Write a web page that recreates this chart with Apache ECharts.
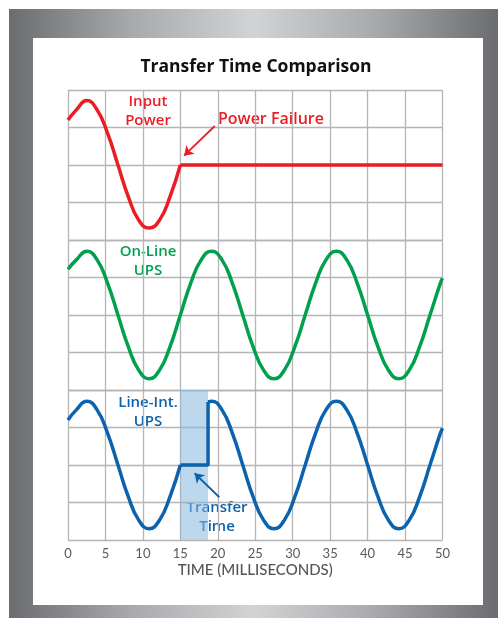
<!DOCTYPE html>
<html>
<head>
<meta charset="utf-8">
<title>Transfer Time Comparison</title>
<script src="https://cdn.jsdelivr.net/npm/echarts@6/dist/echarts.min.js"></script>
<style>
  html, body { margin: 0; padding: 0; background: #fff; }
  .frame {
    position: absolute; left: 9px; top: 9px; width: 489px; height: 609px;
    background: linear-gradient(to right, #6b6c70 0%, #a7a9ac 25%, #d2d3d5 50%, #a7a9ac 75%, #6b6c70 100%);
  }
  .panel { position: absolute; left: 33px; top: 38px; width: 450px; height: 567px; background: #fff; }
  #chart { position: absolute; left: 0; top: 0; width: 498px; height: 618px; }
</style>
</head>
<body>
<div class="frame"></div>
<div class="panel"></div>
<div id="chart"></div>
<script>
// sample times (ms) read along the waves
const waveTimes = [0, 1.11, 2.5, 3.89, 5.28, 6.67, 8.06, 9.44, 10.83, 12.22, 13.61, 15, 16.39, 17.78, 19.17,
  20.56, 21.94, 23.33, 24.72, 26.11, 27.5, 28.89, 30.28, 31.67, 33.06, 34.44, 35.83, 37.22, 38.61, 40,
  41.39, 42.78, 44.17, 45.56, 46.94, 48.33, 49.72, 50]

// input power: wave up to the failure at 15 ms, then flat
const inputPower = [1.2, 1.47, 1.72, 1.47, 0.85, 0, -0.85, -1.47, -1.68, -1.47, -0.85, 0]
const failureTime = 15
const inputAfter = [0, 0]

// on-line UPS: uninterrupted wave
const onlineUps = [1.22, 1.47, 1.7, 1.47, 0.85, 0, -0.85, -1.47, -1.7, -1.47, -0.85, 0, 0.85, 1.47, 1.7,
  1.47, 0.85, 0, -0.85, -1.47, -1.7, -1.47, -0.85, 0, 0.85, 1.47, 1.7, 1.47, 0.85, 0,
  -0.85, -1.47, -1.7, -1.47, -0.85, 0, 0.85, 0.98]

// line-interactive UPS: wave, flat during transfer, then wave again
const transferEnd = 18.7
const lineIntBefore = [1.2, 1.47, 1.7, 1.47, 0.85, 0, -0.85, -1.47, -1.7, -1.47, -0.85, 0]
const lineIntGap = [0, 0, 1.68]
const lineIntAfterTimes = [18.7, 19.17, 20.56, 21.94, 23.33, 24.72, 26.11, 27.5, 28.89, 30.28, 31.67, 33.06,
  34.44, 35.83, 37.22, 38.61, 40, 41.39, 42.78, 44.17, 45.56, 46.94, 48.33, 49.72, 50]
const lineIntAfter = [1.68, 1.7, 1.47, 0.85, 0, -0.85, -1.47, -1.7, -1.47, -0.85, 0, 0.85,
  1.47, 1.7, 1.47, 0.85, 0, -0.85, -1.47, -1.7, -1.47, -0.85, 0, 0.85, 0.98]

const RED = '#ec1c24'
const GREEN = '#00a04f'
const BLUE = '#0b62ad'
const GRID_COLOR = '#b5b5b5'
const FONT = '"Open Sans", Lato, sans-serif'

const chart = echarts.init(document.getElementById('chart'), null, { renderer: 'canvas' })

const pair = (xs, ys) => ys.map((v, i) => [xs[i], v])

const gridTops = [90, 240, 390]
const grids = gridTops.map(top => ({ left: 68, top: top, width: 374.5, height: 150 }))

const xAxes = gridTops.map((t, i) => ({
  type: 'value', gridIndex: i, min: 0, max: 50, interval: 5,
  axisLine: { show: false }, axisTick: { show: false },
  axisLabel: { show: i === 2, color: '#5a5a5a', fontSize: 13, fontFamily: 'Lato, sans-serif', margin: 7 },
  splitLine: { show: true, lineStyle: { color: GRID_COLOR, width: 1.3 } },
  name: i === 2 ? 'TIME (MILLISECONDS)' : '',
  nameLocation: 'middle', nameGap: 23,
  nameTextStyle: { color: '#555', fontSize: 15, fontFamily: 'Lato, sans-serif', fontWeight: 500 }
}))

const yAxes = gridTops.map((t, i) => ({
  type: 'value', gridIndex: i, min: -2, max: 2, interval: 1,
  axisLine: { show: false }, axisTick: { show: false }, axisLabel: { show: false },
  splitLine: { show: true, lineStyle: { color: GRID_COLOR, width: 1.3 } }
}))

const lineStyle = c => ({ color: c, width: 3.5 })

const arrow = (c, from, to) => ({
  silent: true, symbol: ['none', 'arrow'], symbolSize: 9,
  label: { show: false },
  lineStyle: { color: c, width: 1.8, type: 'solid' },
  data: [[{ coord: from }, { coord: to }]]
})

const option = {
  animation: false,
  grid: grids,
  xAxis: xAxes,
  yAxis: yAxes,
  series: [
    {
      type: 'line', xAxisIndex: 0, yAxisIndex: 0, smooth: true, showSymbol: false,
      lineStyle: lineStyle(RED), data: pair(waveTimes, inputPower),
      markLine: arrow(RED, [19.6, 1.04], [15.5, 0.25])
    },
    {
      type: 'line', xAxisIndex: 0, yAxisIndex: 0, showSymbol: false,
      lineStyle: lineStyle(RED), data: pair([failureTime, 50], inputAfter)
    },
    {
      type: 'line', xAxisIndex: 1, yAxisIndex: 1, smooth: true, showSymbol: false,
      lineStyle: lineStyle(GREEN), data: pair(waveTimes, onlineUps)
    },
    {
      type: 'line', xAxisIndex: 2, yAxisIndex: 2, smooth: true, showSymbol: false,
      lineStyle: lineStyle(BLUE), data: pair(waveTimes, lineIntBefore),
      markArea: {
        silent: true,
        itemStyle: { color: 'rgba(135,182,222,0.55)' },
        data: [[{ xAxis: failureTime }, { xAxis: transferEnd }]]
      },
      markLine: arrow(BLUE, [20.2, -0.86], [16.9, -0.22])
    },
    {
      type: 'line', xAxisIndex: 2, yAxisIndex: 2, showSymbol: false,
      lineStyle: lineStyle(BLUE), data: pair([failureTime, transferEnd, transferEnd], lineIntGap)
    },
    {
      type: 'line', xAxisIndex: 2, yAxisIndex: 2, smooth: true, showSymbol: false,
      lineStyle: lineStyle(BLUE), data: pair(lineIntAfterTimes, lineIntAfter)
    }
  ],
  graphic: [
    { type: 'text', x: 256, y: 58, style: { text: 'Transfer Time Comparison', fill: '#111', font: 'bold 17.5px ' + FONT, align: 'center' } },
    { type: 'text', x: 148, y: 92, style: { text: 'Input\nPower', fill: RED, font: '600 15px ' + FONT, lineHeight: 19, align: 'center' } },
    { type: 'text', x: 218, y: 111, style: { text: 'Power Failure', fill: RED, font: '600 16px ' + FONT } },
    { type: 'text', x: 148, y: 242, style: { text: 'On-Line\nUPS', fill: GREEN, font: '600 15px ' + FONT, lineHeight: 19, align: 'center' } },
    { type: 'text', x: 148, y: 393, style: { text: 'Line-Int.\nUPS', fill: BLUE, font: '600 15px ' + FONT, lineHeight: 19, align: 'center' } },
    { type: 'text', x: 217, y: 498, style: { text: 'Transfer\nTime', fill: BLUE, font: '600 15px ' + FONT, lineHeight: 19, align: 'center' } }
  ]
}

chart.setOption(option)
</script>
</body>
</html>
